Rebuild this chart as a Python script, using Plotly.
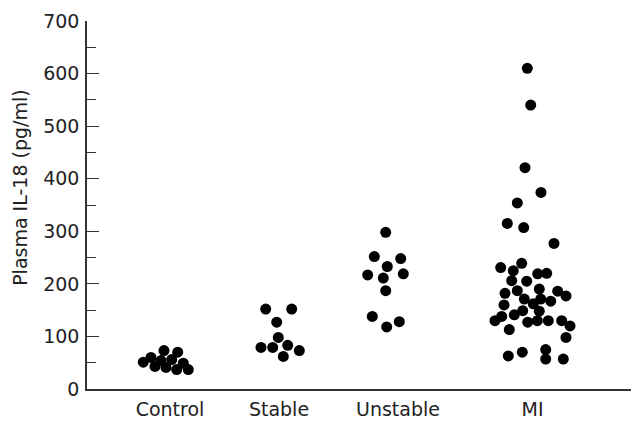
import plotly.graph_objects as go

# ---- data ----
groups = ["Control", "Stable", "Unstable", "MI"]
group_pos = [83, 192, 311, 445.5]          # tick/label positions on x scale

control_vals = [51, 60, 43, 54, 73, 41, 56, 70, 37, 49, 37]
control_jit = [-26.7, -19, -15, -9, -6, -4, 1.7, 7.7, 6.7, 13.3, 18.3]

stable_vals = [152, 152, 127, 98, 79, 79, 83, 73, 62]
stable_jit = [-13.3, 12.7, -2.3, -0.7, -18, -6.3, 8.7, 20.3, 4.3]

unstable_vals = [298, 252, 248, 233, 217, 219, 211, 187, 138, 128, 118]
unstable_jit = [-12.3, -23.7, 2.7, -10.7, -30.3, 5.3, -14.7, -12.3, -25.7, 1.3, -11.3]

mi_vals = [610, 540, 421, 374, 354, 315, 307, 277, 239, 231, 225, 219, 220,
           206, 205, 190, 182, 187, 186, 177, 171, 171, 167, 162, 160, 148,
           149, 141, 138, 130, 127, 130, 130, 130, 120, 113, 98, 63, 70, 75,
           57, 57]
mi_jit = [-5.2, -1.8, -7.5, 8.5, -15.2, -25.2, -8.8, 21.5, -10.8, -31.8,
          -19.2, 5.2, 14.2, -20.8, -5.8, 6.8, -27.5, -15.2, 25.2, 33.5, -8.2,
          8.2, 18.2, 0.8, -28.5, 6.8, -9.8, -18.2, -30.8, -37.5, -4.8, 4.8,
          15.8, 29.2, 37.5, -23.2, 33.5, -24.2, -10.2, 13.2, 13.2, 30.8]

y_ticks = [0, 100, 200, 300, 400, 500, 600, 700]
y_title = "Plasma IL-18 (pg/ml)"

series = [(control_vals, control_jit), (stable_vals, stable_jit),
          (unstable_vals, unstable_jit), (mi_vals, mi_jit)]

FONT = "DejaVu Sans"
AXC = "#333333"

fig = go.Figure()
for (vals, jit), pos in zip(series, group_pos):
    fig.add_trace(go.Scatter(
        x=[pos + j for j in jit], y=vals, mode="markers",
        marker=dict(size=11, color="black", line=dict(width=0)),
        showlegend=False, hoverinfo="y"))

fig.add_annotation(
    text=y_title, textangle=-90, xref="paper", yref="paper",
    x=0, y=0.5466, xanchor="center", yanchor="middle", xshift=-67,
    showarrow=False, font=dict(family=FONT, size=19, color="#222222"))

fig.update_layout(
    width=631, height=413,
    margin=dict(l=79, r=1, t=13, b=32),
    paper_bgcolor="white", plot_bgcolor="white",
    font=dict(family=FONT, size=19, color="#222222"),
    xaxis=dict(range=[0, 551], tickmode="array", tickvals=group_pos,
               ticktext=groups, showline=True, linecolor=AXC, linewidth=1.5,
               ticks="", showgrid=False, zeroline=False,
               ticklabelstandoff=2,
               tickfont=dict(size=19), fixedrange=True),
    yaxis=dict(range=[0, 700], tickmode="array", tickvals=y_ticks,
               showline=True, linecolor=AXC, linewidth=1.5,
               ticks="inside", ticklen=12, tickwidth=1.2, tickcolor=AXC,
               minor=dict(dtick=50, ticks="inside", ticklen=9, tickwidth=1.2,
                          tickcolor=AXC, showgrid=False),
               showgrid=False, zeroline=False,
               ticklabelstandoff=2,
               tickfont=dict(size=19), fixedrange=True),
)

fig.write_html("out.html")
